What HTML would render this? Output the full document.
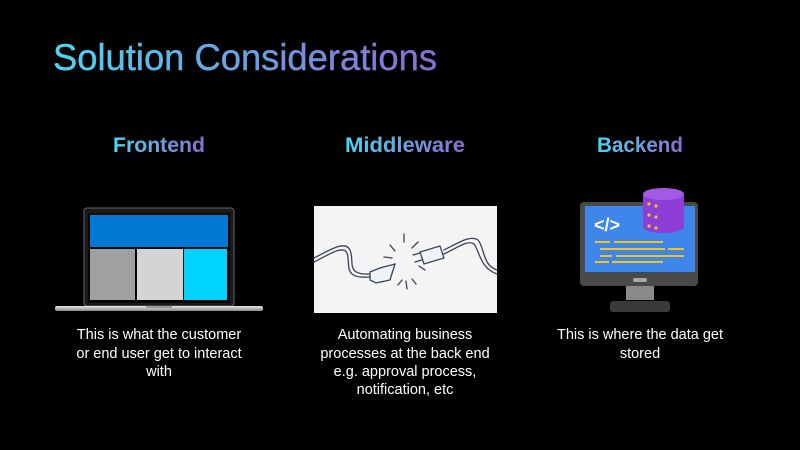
<!DOCTYPE html>
<html><head><style>
html,body{margin:0;padding:0;background:#000;}
svg{display:block}
</style></head><body>
<svg width="800" height="450" viewBox="0 0 800 450" xmlns="http://www.w3.org/2000/svg" font-family="Liberation Sans, sans-serif">
<defs>
<linearGradient id="g" x1="0" x2="1" y1="0" y2="0">
<stop offset="0" stop-color="#4cd6f2"/><stop offset="1" stop-color="#8a6cd0"/>
</linearGradient>
<linearGradient id="base" x1="0" x2="0" y1="0" y2="1">
<stop offset="0" stop-color="#e8e8e8"/><stop offset="1" stop-color="#888"/>
</linearGradient>
</defs>
<rect width="800" height="450" fill="#000"/>
<text x="53" y="70" font-size="37" fill="url(#g)" stroke="url(#g)" stroke-width="0.4" textLength="384" lengthAdjust="spacingAndGlyphs">Solution Considerations</text>

<text x="159" y="152" font-size="21" font-weight="bold" fill="url(#g)" text-anchor="middle" textLength="92" lengthAdjust="spacingAndGlyphs">Frontend</text>
<text x="405" y="152" font-size="21" font-weight="bold" fill="url(#g)" text-anchor="middle" textLength="120" lengthAdjust="spacingAndGlyphs">Middleware</text>
<text x="640" y="152" font-size="21" font-weight="bold" fill="url(#g)" text-anchor="middle" textLength="86" lengthAdjust="spacingAndGlyphs">Backend</text>

<!-- laptop -->
<rect x="84" y="208" width="150" height="98" rx="3" fill="#1a1a1a" stroke="#666" stroke-width="1"/>
<rect x="88" y="213" width="142" height="90" fill="#050505"/>
<rect x="90" y="215" width="138" height="32" fill="#0078d4"/>
<rect x="90" y="249" width="45" height="51" fill="#a0a0a0"/>
<rect x="137" y="249" width="46" height="51" fill="#d4d4d4"/>
<rect x="184" y="249" width="43" height="51" fill="#00d4ff"/>
<rect x="55" y="306" width="208" height="5" rx="2" fill="url(#base)"/>
<rect x="146" y="306" width="26" height="2" fill="#999"/>

<!-- middleware -->
<rect x="314" y="206" width="183" height="107" fill="#f4f4f4"/>
<g fill="none" stroke="#3a4256" stroke-width="1.3" stroke-linecap="round">
<path d="M314 258 C330 250,345 240,350 250 C355 262,345 275,370 274"/>
<path d="M314 262 C330 254,343 245,347 253 C351 265,342 279,370 277"/>
<path d="M370 272 L380 268 L395 264 L390 280 L376 283 L370 280 Z" fill="#eef3f8"/>
<path d="M420 252 L440 246 L444 258 L424 264 Z" fill="#eef3f8"/>
<path d="M413 255 L420 253 M415 262 L422 260"/>
<path d="M444 250 C460 242,470 235,478 240 C485 248,482 265,497 270"/>
<path d="M444 254 C460 246,468 240,474 244 C480 252,480 268,497 274"/>
<path d="M390 245 L395 251 M404 234 L404 242 M418 242 L412 248 M384 257 L392 258 M398 285 L402 280 M407 289 L406 281 M416 284 L412 279 M425 270 L419 266"/>
</g>

<!-- monitor -->
<rect x="580" y="202" width="118" height="84" rx="4" fill="#4a4a4a"/>
<rect x="585" y="206" width="110" height="66" fill="#3e86ea"/>
<rect x="626" y="286" width="28" height="14" fill="#8a8a8a"/>
<rect x="610" y="301" width="60" height="11" rx="3" fill="#3a3a3a"/>
<rect x="633" y="278" width="14" height="4" rx="2" fill="#aaa"/>
<text x="594" y="231" font-size="18" fill="#fff" font-weight="bold">&lt;/&gt;</text>
<g stroke="#f4c21a" stroke-width="2">
<line x1="595" y1="242" x2="610" y2="242"/><line x1="614" y1="242" x2="663" y2="242"/>
<line x1="600" y1="249" x2="665" y2="249"/><line x1="668" y1="249" x2="684" y2="249"/>
<line x1="600" y1="256" x2="612" y2="256"/><line x1="616" y1="256" x2="684" y2="256"/>
<line x1="595" y1="262" x2="609" y2="262"/><line x1="612" y1="262" x2="663" y2="262"/>
</g>
<rect x="643" y="194" width="41" height="33" fill="#8d3ed6"/>
<ellipse cx="663.5" cy="227" rx="20.5" ry="6" fill="#8d3ed6"/>
<ellipse cx="663.5" cy="194" rx="20.5" ry="6" fill="#a35ae6"/>
<g fill="#f4c21a"><circle cx="649" cy="204" r="1.6"/><circle cx="656" cy="206" r="1.6"/><circle cx="649" cy="215" r="1.6"/><circle cx="656" cy="217" r="1.6"/><circle cx="649" cy="226" r="1.6"/><circle cx="656" cy="228" r="1.6"/></g>

<g fill="#fff" font-size="14.5" text-anchor="middle">
<text x="159" y="339">This is what the customer</text>
<text x="159" y="358">or end user get to interact</text>
<text x="159" y="376">with</text>
<text x="405" y="339">Automating business</text>
<text x="405" y="358">processes at the back end</text>
<text x="405" y="376">e.g. approval process,</text>
<text x="405" y="394">notification, etc</text>
<text x="640" y="339">This is where the data get</text>
<text x="640" y="358">stored</text>
</g>
</svg>
</body></html>
